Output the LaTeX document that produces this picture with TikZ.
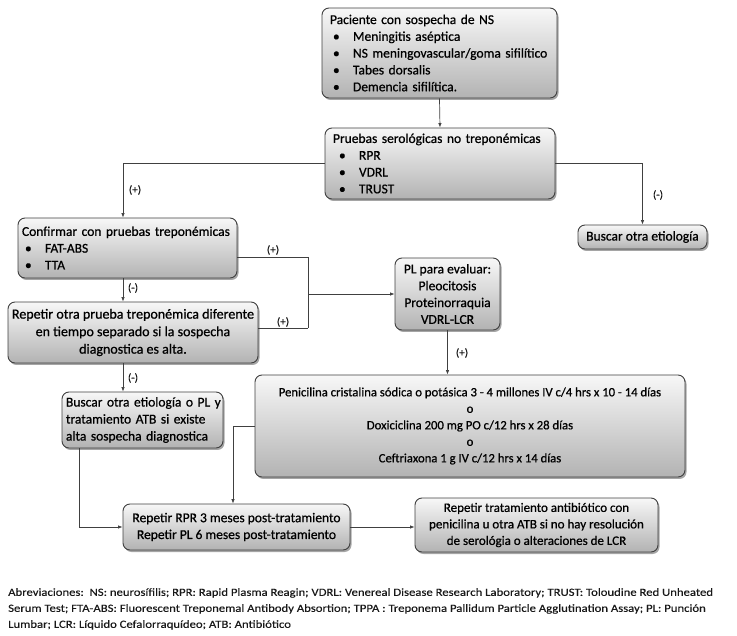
\documentclass[tikz,border=0pt]{standalone}
\usepackage{fontspec}
\setmainfont{Carlito}[FakeBold=0.7]
\newfontfamily\abbrfont{Carlito}[FakeStretch=1.155,FakeBold=0.3]
\usetikzlibrary{shadows,arrows.meta,calc}
\begin{document}
\begin{tikzpicture}[x=1pt,y=-1pt,
 box/.style={draw=black!75, line width=0.9pt, rounded corners=7pt, top color=black!3, bottom color=black!30,
   drop shadow={shadow xshift=1.5pt,shadow yshift=-2pt,opacity=0.5,fill=black!70},
   font=\fontsize{13.5}{16.8}\selectfont, inner sep=0pt, align=center, text=black},
 arr/.style={draw=black!75, line width=0.7pt, -{Latex[length=4.5pt,width=3.5pt]}},
 ln/.style={draw=black!75, line width=0.7pt},
 lbl/.style={font=\fontsize{11}{12}\selectfont, inner sep=1pt, text=black!90}]
\useasboundingbox (0,0) rectangle (737,636);
\newcommand{\bul}[1]{\hspace*{#1}\makebox[20pt][l]{\textbullet}}

\node[box, minimum width=235pt, minimum height=90pt, text width=219pt, inner xsep=8pt, align=left] (top) at (439.5,53)
 {Paciente con sospecha de NS\\ \bul{3pt}Meningitis aséptica\\ \bul{3pt}NS meningovascular/goma sifilítico\\ \bul{3pt}Tabes dorsalis\\ \bul{3pt}Demencia sifilítica.};

\node[box, minimum width=230pt, minimum height=71pt, text width=214pt, inner xsep=8pt, align=left] (prue) at (440,163.5)
 {Pruebas serológicas no treponémicas\\ \bul{6pt}RPR\\ \bul{6pt}VDRL\\ \bul{6pt}TRUST};

\node[box, minimum width=129pt, minimum height=24pt] (busc) at (642.5,237) {Buscar otra etiología};

\node[box, minimum width=219pt, minimum height=60pt, text width=211pt, inner xsep=4pt, align=left] (conf) at (127.5,248)
 {Confirmar con pruebas treponémicas\\ \bul{3pt}FAT-ABS\\ \bul{3pt}TTA};

\node[box, minimum width=250pt, minimum height=61pt, font=\fontsize{14}{17.5}\selectfont] (rep) at (133,332.5)
 {Repetir otra prueba treponémica diferente\\ en tiempo separado si la sospecha\\ diagnostica es alta.};

\node[box, minimum width=105pt, minimum height=72pt] (pl) at (447.5,294)
 {PL para evaluar:\\ Pleocitosis\\ Proteinorraquia\\ VDRL-LCR};

\node[box, minimum width=430pt, minimum height=102pt, font=\fontsize{12.7}{16.5}\selectfont] (trat) at (470,426)
 {Penicilina cristalina sódica o potásica 3 - 4 millones IV c/4 hrs x 10 - 14 días\\ o\\ Doxiciclina 200 mg PO c/12 hrs x 28 días\\ o\\ Ceftriaxona 1 g IV c/12 hrs x 14 días};

\node[box, minimum width=161pt, minimum height=56pt, text width=159pt, inner xsep=1pt, align=left, font=\fontsize{13.5}{17}\selectfont] (busc2) at (142.5,420)
 {\hspace*{3pt}Buscar otra etiología o PL y\\ \hspace*{3pt}tratamiento ATB si existe\\ \hspace*{3pt}alta sospecha diagnostica};

\node[box, minimum width=227pt, minimum height=46pt] (rpr) at (236.5,527)
 {Repetir RPR 3 meses post-tratamiento\\ Repetir PL 6 meses post-tratamiento};

\node[box, minimum width=243pt, minimum height=54pt, font=\fontsize{13}{16.5}\selectfont] (rtrat) at (536.5,525)
 {Repetir tratamiento antibiótico con\\ penicilina u otra ATB si no hay resolución\\ de serológia o alteraciones de LCR};

% connectors
\coordinate (xa) at (123,0);
\coordinate (xb) at (308,0);
\coordinate (xc) at (79,0);
\coordinate (xd) at (233,0);
\draw[arr] (top.south) -- (prue.north);
\draw[arr] (prue.west) -| (conf.north -| xa);
\draw[arr] (prue.east) -| (busc.north);
\draw[arr] (conf.south -| xa) -- (rep.north -| xa);
\draw[ln] ([yshift=-9pt]conf.east) -- ([yshift=-9pt]conf.east -| xb);
\draw[ln] ([yshift=4pt]rep.east) -- ([yshift=4pt]rep.east -| xb);
\draw[ln] ([yshift=-9pt]conf.east -| xb) -- ([yshift=4pt]rep.east -| xb);
\draw[arr] (pl.west -| xb) -- (pl.west);
\draw[arr] (pl.south) -- (trat.north -| pl.south);
\draw[arr] (rep.south -| xa) -- (busc2.north -| xa);
\draw[arr] (busc2.south -| xc) |- (rpr.west);
\draw[arr] (trat.west) -| (rpr.north -| xd);
\draw[arr] (rpr.east) -- (rpr.east -| rtrat.west);

% labels
\node[lbl] (l1) at (135,190) {(+)};
\node[lbl] (l2) at (658,195) {(-)};
\node[lbl] (l3) at (133,288) {(-)};
\node[lbl] (l4) at (273,250) {(+)};
\node[lbl] (l5) at (283,322) {(+)};
\node[lbl] (l6) at (462,353) {(+)};
\node[lbl] (l7) at (133,378) {(-)};

\node[anchor=north west, align=left, inner sep=0pt, font=\abbrfont\fontsize{11}{16}\selectfont, text=black!90] (abbr) at (8,588)
 {Abreviaciones:\ \ NS: neurosífilis; RPR: Rapid Plasma Reagin; VDRL: Venereal Disease Research Laboratory; TRUST: Toloudine Red Unheated\\
 Serum Test; FTA-ABS: Fluorescent Treponemal Antibody Absortion; TPPA : Treponema Pallidum Particle Agglutination Assay; PL: Punción\\
 Lumbar; LCR: Líquido Cefalorraquídeo; ATB: Antibiótico};
\end{tikzpicture}
\end{document}
